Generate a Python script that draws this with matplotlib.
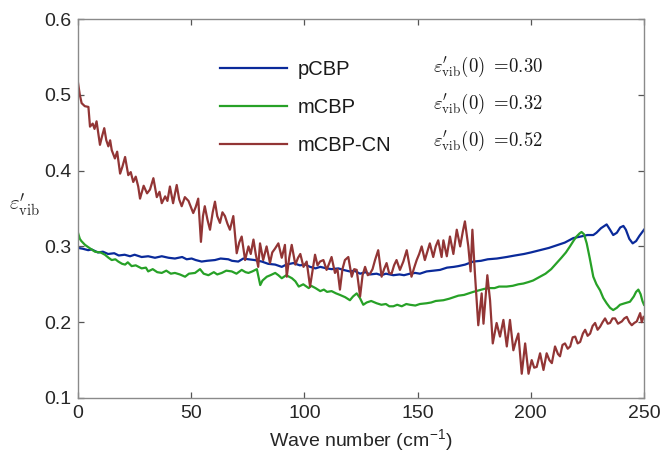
import matplotlib
matplotlib.use("Agg")
import matplotlib.pyplot as plt

plt.rcParams['mathtext.fontset'] = 'cm'
plt.rcParams['font.family'] = ['Liberation Sans', 'DejaVu Sans']

# ---------------- data ----------------
pcbp_x = [0, 2, 4.5, 6, 8.8, 11, 13.3, 16, 18, 20.6, 23, 25, 28.1, 31, 34, 37, 40, 42.8, 46, 48,
          50.2, 52, 54.6, 57, 60.5, 63, 66.4, 68, 70.8, 73, 75.3, 78, 81.2, 84, 87.1, 90, 92, 95.1,
          98, 100.4, 102.5, 104.9, 107, 109.8, 112, 115, 117.2, 120, 122, 124.6, 127, 129, 131.9,
          134, 136, 139.3, 142, 144, 146.6, 149, 151, 154, 157, 159.9, 163, 166, 168, 171, 174.6,
          178, 181, 185, 189.3, 193, 197, 200, 204, 208, 212, 215, 218.8, 222, 225, 227.6, 229,
          231, 233.5, 235, 236.4, 238, 239.5, 240.9, 242, 243.5, 245, 246.5, 248, 250]
pcbp_y = [0.298, 0.297, 0.295, 0.296, 0.292, 0.293, 0.290, 0.291, 0.288, 0.289, 0.287, 0.289, 0.286,
          0.287, 0.285, 0.287, 0.285, 0.284, 0.286, 0.283, 0.284, 0.282, 0.280, 0.281, 0.282, 0.284,
          0.283, 0.281, 0.280, 0.284, 0.283, 0.282, 0.280, 0.277, 0.276, 0.273, 0.276, 0.278, 0.275,
          0.276, 0.273, 0.271, 0.273, 0.271, 0.270, 0.271, 0.269, 0.267, 0.268, 0.264, 0.266, 0.263,
          0.264, 0.262, 0.264, 0.262, 0.263, 0.262, 0.264, 0.265, 0.264, 0.267, 0.268, 0.269, 0.272,
          0.273, 0.274, 0.276, 0.280, 0.281, 0.283, 0.284, 0.286, 0.288, 0.290, 0.292, 0.295, 0.298,
          0.302, 0.305, 0.311, 0.313, 0.315, 0.315, 0.318, 0.324, 0.329, 0.322, 0.315, 0.318, 0.325,
          0.327, 0.322, 0.310, 0.304, 0.307, 0.314, 0.322]

mcbp_x = [0, 0.8, 1.5, 3.1, 5, 7.5, 10, 11.9, 13.5, 14.9, 16.5, 17.8, 19.5, 20.8, 22, 23.7, 25.5,
          28.1, 30, 31, 33, 35, 37, 39, 41, 42.8, 45, 47.3, 49, 51.7, 53.9, 55.5, 57.6, 60, 61.5,
          63.5, 65.5, 67.9, 70, 72.3, 74, 75.3, 77, 79, 80.5, 81.5, 83.4, 85, 87.1, 88.5, 90, 92,
          94.5, 96, 97.5, 99.5, 101.9, 103, 104.9, 107, 108.6, 110, 112, 114, 115.7, 118, 120.1,
          121.5, 123.1, 124.5, 126, 127.5, 129.5, 131.9, 134, 136, 137.5, 139.3, 141, 143, 145,
          146.6, 149, 151, 154, 156, 158, 161.4, 164, 166, 168, 170.5, 172.5, 174.6, 177, 179.5,
          182, 184, 186, 189.3, 192, 194.5, 196.7, 199, 201, 204, 206.5, 209, 211.4, 213.5, 215.5,
          217.3, 219, 220.2, 221.5, 222.4, 223.5, 224.7, 226, 227.6, 229, 230.6, 232, 233.5, 235,
          236.4, 238, 239.4, 241.5, 243.8, 245.5, 246.5, 247.5, 248.5, 249.3, 250]
mcbp_y = [0.318, 0.310, 0.307, 0.302, 0.298, 0.293, 0.292, 0.289, 0.285, 0.282, 0.283, 0.280, 0.277,
          0.276, 0.279, 0.274, 0.275, 0.271, 0.272, 0.267, 0.270, 0.266, 0.265, 0.268, 0.264, 0.265,
          0.263, 0.260, 0.264, 0.265, 0.270, 0.264, 0.262, 0.266, 0.263, 0.265, 0.268, 0.267, 0.264,
          0.269, 0.266, 0.265, 0.267, 0.270, 0.249, 0.255, 0.260, 0.262, 0.265, 0.262, 0.258, 0.262,
          0.258, 0.254, 0.247, 0.250, 0.245, 0.248, 0.245, 0.241, 0.243, 0.240, 0.241, 0.238, 0.236,
          0.233, 0.229, 0.234, 0.238, 0.232, 0.223, 0.226, 0.228, 0.225, 0.223, 0.224, 0.221, 0.221,
          0.223, 0.221, 0.224, 0.223, 0.222, 0.224, 0.225, 0.226, 0.228, 0.229, 0.231, 0.233, 0.235,
          0.236, 0.238, 0.240, 0.242, 0.244, 0.245, 0.245, 0.247, 0.247, 0.248, 0.250, 0.251, 0.253,
          0.255, 0.260, 0.264, 0.270, 0.278, 0.285, 0.292, 0.300, 0.308, 0.313, 0.317, 0.319, 0.316,
          0.304, 0.285, 0.260, 0.250, 0.242, 0.232, 0.225, 0.219, 0.216, 0.219, 0.223, 0.225, 0.227,
          0.234, 0.240, 0.243, 0.237, 0.228, 0.223]

cn_x = [0, 0.8, 1.6, 3.0, 4.6, 5.3, 6.5, 7.3, 8.2, 9.7, 10.6, 11.6, 12.5, 13.4, 14.2, 14.9, 16.3,
        17.3, 18.6, 19.6, 20.8, 22.2, 23.3, 24.4, 25.5, 26.6, 27.4, 29.0, 30.5, 31.8, 33.3, 34.8,
        36.0, 37.0, 38.5, 39.5, 40.6, 42.0, 43.6, 44.7, 45.8, 47.2, 48.8, 50.9, 52.0, 53.1, 54.3,
        55.2, 56.0, 57.2, 58.3, 59.5, 60.5, 61.5, 62.7, 63.8, 64.9, 66.0, 67.1, 68.6, 70.1, 71.2,
        72.3, 73.8, 75.3, 76.3, 77.5, 78.5, 79.6, 80.4, 81.8, 83.3, 84.8, 85.8, 87.0, 88.5, 90.0,
        91.4, 92.2, 93.3, 94.4, 96.0, 97.2, 98.2, 99.6, 101.0, 102.5, 104.7, 105.8, 106.9, 108.4,
        109.8, 111.0, 112.0, 113.5, 114.6, 115.7, 116.8, 117.9, 119.4, 120.9, 122.0, 123.1, 124.6,
        125.7, 126.8, 128.0, 129.0, 130.1, 131.2, 132.6, 134.1, 135.2, 136.3, 137.4, 138.5, 139.6,
        140.7, 142.2, 143.7, 145.2, 147.3, 148.5, 149.6, 150.7, 151.8, 153.2, 154.3, 155.4, 156.9,
        158.0, 159.1, 160.6, 161.4, 162.9, 164.3, 165.8, 167.3, 168.8, 170.0, 170.9, 172.4, 173.4,
        174.2, 175.3, 176.8, 178.3, 179.1, 180.8, 182.0, 183.2, 184.9, 186.4, 187.9, 189.4, 190.8,
        192.3, 193.4, 194.5, 196.0, 197.5, 199.0, 200.4, 201.5, 202.6, 204.1, 205.6, 207.0, 208.2,
        209.3, 210.7, 212.0, 212.9, 214.0, 215.1, 216.3, 217.4, 218.5, 219.6, 220.7, 221.8, 223.0,
        224.0, 225.1, 226.2, 227.3, 228.4, 229.5, 230.6, 231.7, 232.8, 234.0, 235.0, 236.1, 237.2,
        238.5, 240.2, 241.3, 242.4, 243.5, 244.6, 245.7, 246.8, 248.3, 249.0, 249.8]
cn_y = [0.516, 0.500, 0.489, 0.485, 0.484, 0.458, 0.462, 0.455, 0.465, 0.434, 0.445, 0.456, 0.440,
        0.432, 0.440, 0.427, 0.416, 0.425, 0.396, 0.405, 0.418, 0.394, 0.398, 0.385, 0.392, 0.379,
        0.363, 0.380, 0.370, 0.375, 0.390, 0.365, 0.372, 0.357, 0.366, 0.360, 0.379, 0.357, 0.381,
        0.362, 0.353, 0.365, 0.360, 0.344, 0.352, 0.363, 0.306, 0.340, 0.353, 0.335, 0.322, 0.345,
        0.359, 0.340, 0.331, 0.345, 0.340, 0.330, 0.322, 0.340, 0.291, 0.305, 0.313, 0.282, 0.300,
        0.290, 0.309, 0.290, 0.273, 0.304, 0.282, 0.300, 0.278, 0.292, 0.297, 0.304, 0.285, 0.302,
        0.260, 0.285, 0.302, 0.276, 0.285, 0.290, 0.273, 0.280, 0.247, 0.289, 0.275, 0.280, 0.282,
        0.269, 0.278, 0.286, 0.265, 0.270, 0.243, 0.270, 0.282, 0.286, 0.260, 0.270, 0.269, 0.234,
        0.262, 0.273, 0.262, 0.264, 0.270, 0.282, 0.295, 0.260, 0.270, 0.278, 0.265, 0.264, 0.275,
        0.282, 0.269, 0.280, 0.295, 0.260, 0.272, 0.282, 0.290, 0.300, 0.282, 0.293, 0.304, 0.286,
        0.300, 0.308, 0.286, 0.308, 0.287, 0.313, 0.290, 0.322, 0.300, 0.320, 0.333, 0.300, 0.267,
        0.322, 0.265, 0.196, 0.238, 0.198, 0.262, 0.229, 0.172, 0.199, 0.181, 0.203, 0.168, 0.203,
        0.163, 0.175, 0.185, 0.132, 0.172, 0.132, 0.150, 0.140, 0.141, 0.159, 0.137, 0.159, 0.150,
        0.146, 0.168, 0.158, 0.155, 0.170, 0.172, 0.165, 0.168, 0.180, 0.181, 0.172, 0.174, 0.185,
        0.190, 0.182, 0.185, 0.195, 0.199, 0.190, 0.194, 0.200, 0.205, 0.198, 0.199, 0.205, 0.205,
        0.198, 0.201, 0.205, 0.207, 0.200, 0.196, 0.199, 0.201, 0.212, 0.200, 0.207]

series_labels = ['pCBP', 'mCBP', 'mCBP-CN']
eps0_values = ['0.30', '0.32', '0.52']
xticks = [0, 50, 100, 150, 200, 250]
yticks = [0.1, 0.2, 0.3, 0.4, 0.5, 0.6]

colors = ['#0a2a9a', '#27a127', '#923535']

# ---------------- figure ----------------
W, H = 663, 459
fig = plt.figure(figsize=(W / 100, H / 100), dpi=100)
ax = fig.add_axes([78 / W, 1 - 398 / H, (644 - 78) / W, (398 - 19) / H])

lw = 1.6
ax.plot(pcbp_x, pcbp_y, color=colors[0], lw=lw, label=series_labels[0])
ax.plot(mcbp_x, mcbp_y, color=colors[1], lw=lw, label=series_labels[1])
ax.plot(cn_x, cn_y, color=colors[2], lw=lw, label=series_labels[2])

ax.set_xlim(0, 250)
ax.set_ylim(0.1, 0.6)
ax.set_xticks(xticks)
ax.set_yticks(yticks)
ax.set_xticklabels([str(t) for t in xticks])
ax.set_yticklabels(['%.1f' % t for t in yticks])

spine_col = '#8a8a8a'
for s in ax.spines.values():
    s.set_color(spine_col)
    s.set_linewidth(1.0)
ax.tick_params(direction='in', length=4.5, width=0.9, color='#555555',
               top=True, right=True, labelsize=14, labelcolor='#262626', pad=5)

ax.set_xlabel('Wave number (cm$^{\\mathregular{-1}}$)', fontsize=14, color='#262626', labelpad=4)

fig.text(25 / W, 1 - 205 / H, r"$\varepsilon^{\prime}_{\mathrm{vib}}$", fontsize=15,
         ha='center', va='center', color='#262626')

leg = ax.legend(loc='upper left', bbox_to_anchor=((220 - 78) / (644 - 78), 1 - (60 - 19) / (398 - 19)),
                frameon=False, fontsize=14.5, handlelength=3.33, handletextpad=0.55,
                labelspacing=0.95, borderaxespad=0, borderpad=0)
for t in leg.get_texts():
    t.set_color('#1a1a1a')

rows_y = [67, 104, 141]
for val, ry in zip(eps0_values, rows_y):
    fig.text(433 / W, 1 - ry / H, r"$\varepsilon^{\prime}_{\mathrm{vib}}(0)\ =\!$" + r"$%s$" % val,
             fontsize=13.5, ha='left', va='center', color='#1a1a1a')

fig.savefig('out.png', dpi=100)
